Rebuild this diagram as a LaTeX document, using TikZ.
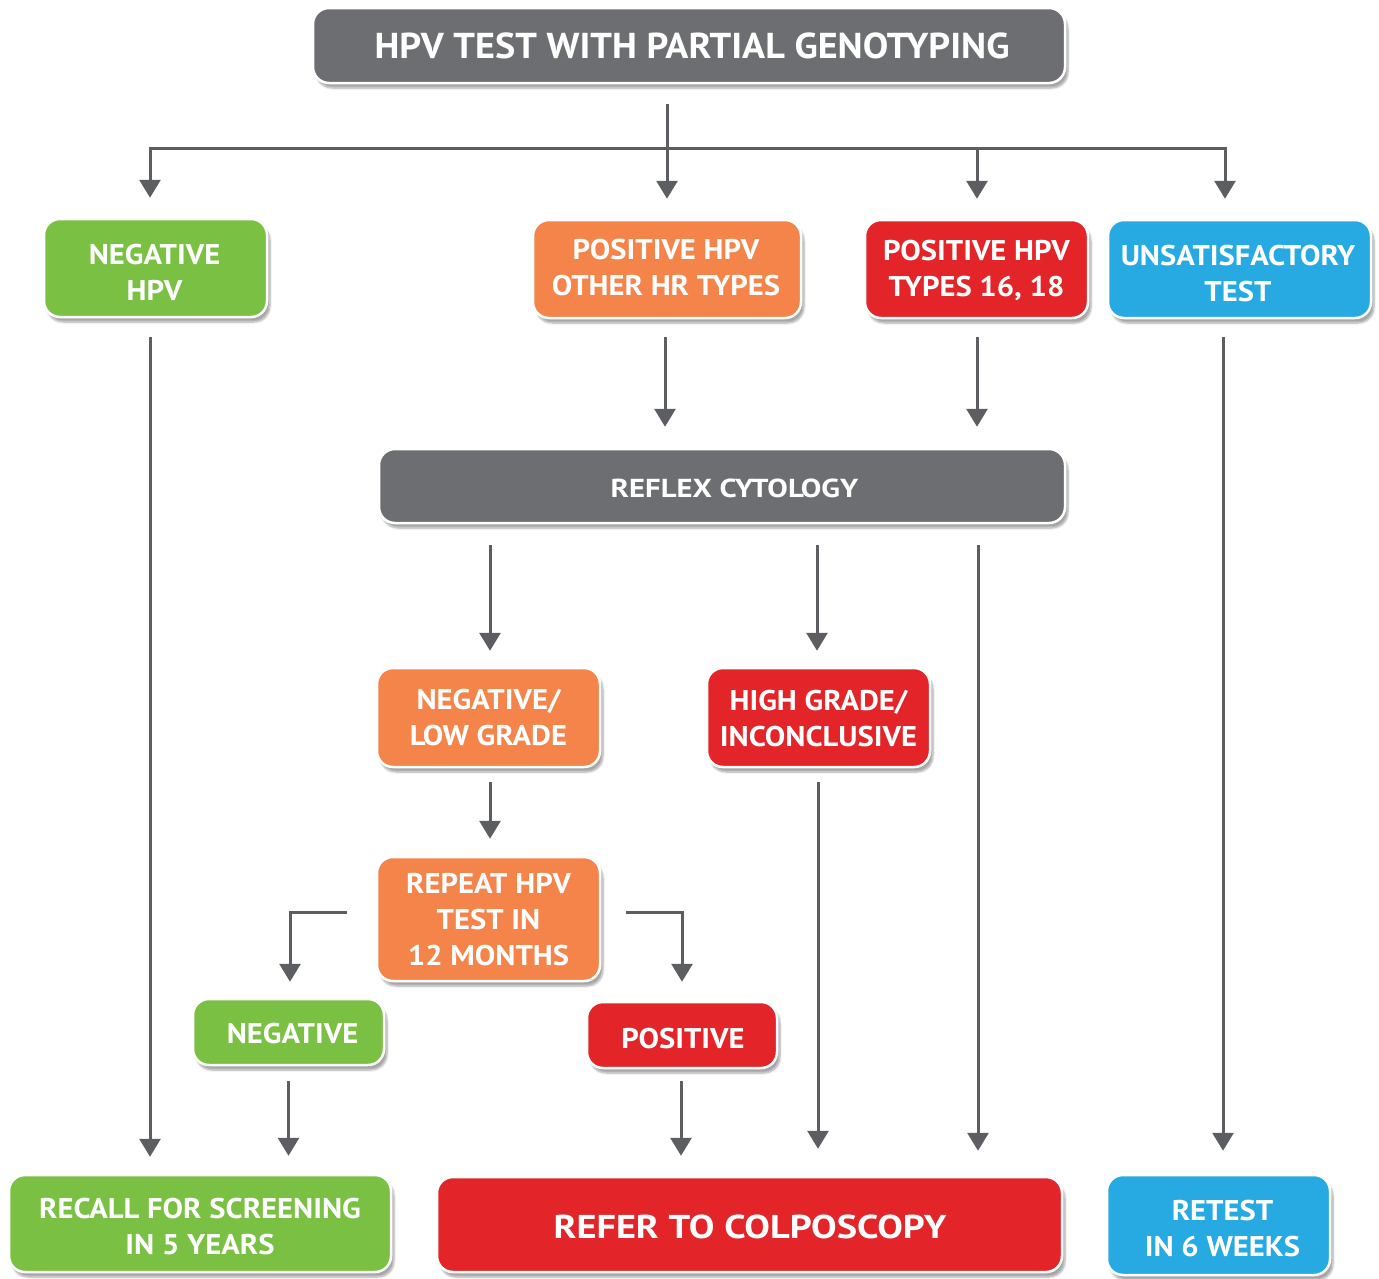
\documentclass[tikz,border=0pt]{standalone}
\usepackage{fontspec}
\setmainfont{PT Sans}
\newfontfamily\bodyfont[FakeStretch=1.075]{PT Sans}
\newfontfamily\titlefont[FakeStretch=1.06]{PT Sans}
\newfontfamily\reflexfont[FakeStretch=1.18]{PT Sans}
\newfontfamily\referfont[FakeStretch=1.16]{PT Sans}
\usetikzlibrary{arrows.meta,shadows.blur}
\definecolor{cgray}{HTML}{6D6E71}
\definecolor{cgreen}{HTML}{7AC143}
\definecolor{corange}{HTML}{F4844A}
\definecolor{cred}{HTML}{E32428}
\definecolor{cblue}{HTML}{27AAE1}
\definecolor{cline}{HTML}{5D5E61}
\tikzset{
  box/.style={rounded corners=16pt, draw=white, line width=2.5pt, inner sep=0pt,
    blur shadow={shadow xshift=3pt, shadow yshift=-5pt, shadow blur steps=6, shadow opacity=35}},
  txt/.style={text=white, align=center, inner sep=0pt, text depth=0pt,
    font=\bodyfont\fontsize{28.5}{36}\selectfont\bfseries},
  arr/.style={draw=cline, line width=3pt, -{Triangle[width=21pt,length=18pt]}},
}
\begin{document}
\begin{tikzpicture}[x=1pt,y=-1pt]
\useasboundingbox (0,0) rectangle (1379,1278);
% boxes
\node[box, fill=cgray, minimum width=752pt, minimum height=75pt] (top) at (689,45.5) {};
\node[box, fill=cgreen, minimum width=223pt, minimum height=98pt] (negH) at (155.5,268) {};
\node[box, fill=corange, minimum width=268pt, minimum height=98pt] (posO) at (667,269) {};
\node[box, fill=cred, minimum width=223pt, minimum height=98pt] (pos16) at (976.5,269) {};
\node[box, fill=cblue, minimum width=263pt, minimum height=98pt] (unsat) at (1239.5,269) {};
\node[box, fill=cgray, minimum width=686pt, minimum height=74pt] (reflex) at (722,486) {};
\node[box, fill=corange, minimum width=223pt, minimum height=99pt] (neglow) at (488.5,717.5) {};
\node[box, fill=cred, minimum width=223pt, minimum height=99pt] (high) at (818.5,717.5) {};
\node[box, fill=corange, minimum width=223pt, minimum height=124pt] (repeat) at (488.5,919) {};
\node[box, fill=cgreen, minimum width=191pt, minimum height=66pt] (neg) at (288.5,1032) {};
\node[box, fill=cred, minimum width=190pt, minimum height=66pt] (pos) at (682,1035) {};
\node[box, fill=cgreen, minimum width=382pt, minimum height=97pt] (recall) at (200,1223.5) {};
\node[box, fill=cred, minimum width=625pt, minimum height=95pt] (refer) at (749.5,1224.5) {};
\node[box, fill=cblue, minimum width=223pt, minimum height=100pt] (retest) at (1218.5,1225) {};
% texts
\node[txt, font=\titlefont\fontsize{36}{40}\selectfont\bfseries] (top-t) at ([shift={(3,0)}]top.center) {HPV TEST WITH PARTIAL GENOTYPING};
\node[txt] (negH-t) at ([shift={(-1,4)}]negH.center) {NEGATIVE\\HPV};
\node[txt] (posO-t) at ([shift={(-1,-1.5)}]posO.center) {POSITIVE HPV\\OTHER HR TYPES};
\node[txt] (pos16-t) at ([shift={(0,-1)}]pos16.center) {POSITIVE HPV\\TYPES 16, 18};
\node[txt] (unsat-t) at ([shift={(-1.5,4)}]unsat.center) {UNSATISFACTORY\\TEST};
\node[txt, font=\reflexfont\fontsize{26}{30}\selectfont\bfseries] (reflex-t) at ([shift={(12.5,2)}]reflex.center) {REFLEX CYTOLOGY};
\node[txt] (neglow-t) at (neglow.center) {NEGATIVE/\\LOW GRADE};
\node[txt] (high-t) at ([shift={(0,1)}]high.center) {HIGH GRADE/\\INCONCLUSIVE};
\node[txt] (repeat-t) at (repeat.center) {REPEAT HPV\\TEST IN\\12 MONTHS};
\node[txt] (neg-t) at ([shift={(4,1.5)}]neg.center) {NEGATIVE};
\node[txt] (pos-t) at ([shift={(1,3)}]pos.center) {POSITIVE};
\node[txt] (recall-t) at ([shift={(0,3)}]recall.center) {RECALL FOR SCREENING\\IN 5 YEARS};
\node[txt, font=\referfont\fontsize{33}{40}\selectfont\bfseries] (refer-t) at ([shift={(0.5,2)}]refer.center) {REFER TO COLPOSCOPY};
\node[txt] (retest-t) at ([shift={(4,3)}]retest.center) {RETEST\\IN 6 WEEKS};
% connectors
\coordinate (bar) at (667,148);
\draw[arr, shorten <=20pt, shorten >=20pt] ([xshift=-22pt]top.south) -- (posO.north);
\draw[draw=cline, line width=3pt] ([xshift=-5.5pt]negH.north |- bar) -- ([xshift=-14.5pt]unsat.north |- bar);
\draw[arr, shorten >=20pt] (bar) -| ([xshift=-5.5pt]negH.north);
\draw[arr, shorten >=20pt] (bar) -| ([xshift=0.5pt]pos16.north);
\draw[arr, shorten >=20pt] (bar) -| ([xshift=-14.5pt]unsat.north);
\draw[arr, shorten <=19pt, shorten >=17pt] ([xshift=-5.5pt]negH.south) -- ([xshift=-5.5pt]negH.south |- recall.north);
\draw[arr, shorten <=18pt, shorten >=21pt] ([xshift=-2pt]posO.south) -- ([xshift=-2pt]posO.south |- reflex.north);
\draw[arr, shorten <=18pt, shorten >=21pt] ([xshift=0.5pt]pos16.south) -- ([xshift=0.5pt]pos16.south |- reflex.north);
\draw[arr, shorten <=18pt, shorten >=23pt] ([xshift=-16.5pt]unsat.south) -- ([xshift=4.5pt]retest.north);
\draw[arr, shorten <=21pt, shorten >=16pt] (reflex.south -| neglow.north) ++(1.5,0) -- ([xshift=1.5pt]neglow.north);
\draw[arr, shorten <=21pt, shorten >=16pt] (reflex.south -| high.north) ++(-1.5,0) -- ([xshift=-1.5pt]high.north);
\draw[arr, shorten <=21pt, shorten >=25pt] (reflex.south -| pos16.south) ++(1.5,0) -- ([xshift=228.5pt]refer.north);
\draw[arr, shorten <=14pt, shorten >=17pt] ([xshift=1.5pt]neglow.south) -- ([xshift=1.5pt]repeat.north);
\draw[arr, shorten <=14pt, shorten >=27pt] ([xshift=-0.5pt]high.south) -- ([xshift=68.5pt]refer.north);
\draw[arr, shorten <=29pt, shorten >=16pt] ([yshift=7pt]repeat.west) -| ([xshift=1.5pt]neg.north);
\draw[arr, shorten <=25pt, shorten >=19pt] ([yshift=7pt]repeat.east) -| (pos.north);
\draw[arr, shorten <=15pt, shorten >=18pt] (neg.south) -- (neg.south |- recall.north);
\draw[arr, shorten <=12pt, shorten >=20pt] ([xshift=-1pt]pos.south) -- ([xshift=-68.5pt]refer.north);
\end{tikzpicture}
\end{document}
